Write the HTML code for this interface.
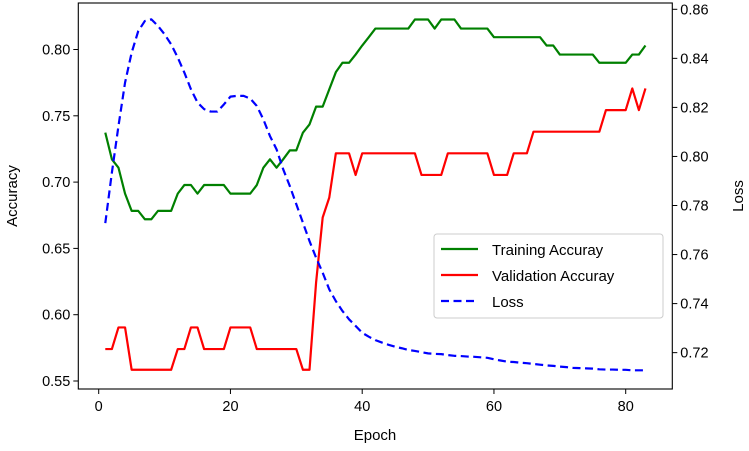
<!DOCTYPE html>
<html><head><meta charset="utf-8"><style>
html,body{margin:0;padding:0;background:#fff;}
svg text{font-family:"Liberation Sans","DejaVu Sans",sans-serif;fill:#000;}
</style></head><body>
<svg id="chart" width="749" height="446" viewBox="0 0 749 446" xmlns="http://www.w3.org/2000/svg"></svg>
<script>
const epochs = Array.from({length:83},(_,i)=>i+1);
const trainAcc = [0.7373,0.7172,0.7109,0.6913,0.6783,0.6783,0.6720,0.6720,0.6783,0.6783,0.6783,0.6913,0.6978,0.6978,0.6913,0.6978,0.6978,0.6978,0.6978,0.6913,0.6913,0.6913,0.6913,0.6978,0.7109,0.7172,0.7109,0.7172,0.7239,0.7239,0.7373,0.7435,0.7569,0.7569,0.7699,0.7829,0.7900,0.7900,0.7962,0.8030,0.8093,0.8158,0.8158,0.8158,0.8158,0.8158,0.8158,0.8226,0.8226,0.8226,0.8158,0.8226,0.8226,0.8226,0.8158,0.8158,0.8158,0.8158,0.8158,0.8093,0.8093,0.8093,0.8093,0.8093,0.8093,0.8093,0.8093,0.8030,0.8030,0.7962,0.7962,0.7962,0.7962,0.7962,0.7962,0.7900,0.7900,0.7900,0.7900,0.7900,0.7962,0.7962,0.8030];
const valAcc = [0.5741,0.5741,0.5904,0.5904,0.5585,0.5585,0.5585,0.5585,0.5585,0.5585,0.5585,0.5741,0.5741,0.5904,0.5904,0.5741,0.5741,0.5741,0.5741,0.5904,0.5904,0.5904,0.5904,0.5741,0.5741,0.5741,0.5741,0.5741,0.5741,0.5741,0.5585,0.5585,0.6243,0.6733,0.6883,0.7217,0.7217,0.7217,0.7054,0.7217,0.7217,0.7217,0.7217,0.7217,0.7217,0.7217,0.7217,0.7217,0.7054,0.7054,0.7054,0.7054,0.7217,0.7217,0.7217,0.7217,0.7217,0.7217,0.7217,0.7054,0.7054,0.7054,0.7217,0.7217,0.7217,0.7380,0.7380,0.7380,0.7380,0.7380,0.7380,0.7380,0.7380,0.7380,0.7380,0.7380,0.7543,0.7543,0.7543,0.7543,0.7706,0.7543,0.7706];
const lossVals = [0.7728,0.7934,0.8124,0.8301,0.8423,0.8511,0.8552,0.8559,0.8532,0.8498,0.8457,0.8403,0.8342,0.8274,0.8220,0.8193,0.8183,0.8183,0.8212,0.8244,0.8247,0.8247,0.8236,0.8206,0.8151,0.8083,0.8029,0.7948,0.7880,0.7805,0.7730,0.7655,0.7587,0.7526,0.7458,0.7410,0.7370,0.7336,0.7309,0.7281,0.7265,0.7251,0.7241,0.7232,0.7224,0.7218,0.7211,0.7207,0.7202,0.7197,0.7195,0.7194,0.7190,0.7187,0.7186,0.7184,0.7183,0.7181,0.7179,0.7173,0.7168,0.7163,0.7162,0.7159,0.7157,0.7154,0.7151,0.7148,0.7146,0.7143,0.7141,0.7138,0.7137,0.7136,0.7135,0.7132,0.7131,0.7131,0.7130,0.7130,0.7128,0.7128,0.7128];
const xTicks = [0,20,40,60,80];
const accTicks = [0.55,0.60,0.65,0.70,0.75,0.80];
const lossTicks = [0.72,0.74,0.76,0.78,0.80,0.82,0.84,0.86];

const svg = document.getElementById('chart');
const NS = 'http://www.w3.org/2000/svg';
const L=78.3,R=672.3,T=3,B=389;
const xs = e => 98.7 + (e-0)*6.5875;
const ya = v => 381 - (v-0.55)*1326;
const yl = v => 9.3 + (0.86-v)*2452.5;
function mk(tag, attrs, parent){const el=document.createElementNS(NS,tag);for(const k in attrs)el.setAttribute(k,attrs[k]);(parent||svg).appendChild(el);return el;}

function series(vals, yf, color, dash, name){
  const d = vals.map((v,i)=>(i?'L':'M')+xs(epochs[i]).toFixed(2)+','+yf(v).toFixed(2)).join(' ');
  const p = mk('path',{d:d,fill:'none',stroke:color,'stroke-width':2.2,'stroke-linejoin':'round'});
  if(dash) p.setAttribute('stroke-dasharray',dash);
  
  
}
series(trainAcc, ya, '#008000', null, 'training-accuracy-line');
series(valAcc, ya, '#ff0000', null, 'validation-accuracy-line');
series(lossVals, yl, '#0000ff', '8,4.5', 'loss-line');

const frame = mk('rect',{x:L,y:T,width:R-L,height:B-T,fill:'none',stroke:'#000','stroke-width':1.1});



xTicks.forEach(t=>{
  const x=xs(t);
  mk('line',{x1:x,x2:x,y1:B,y2:B+5,stroke:'#000','stroke-width':1});
  const tx=mk('text',{x:x,y:B+22,'text-anchor':'middle','font-size':14.5});
  tx.textContent=t;
  
  
});
accTicks.forEach(t=>{
  const y=ya(t);
  mk('line',{x1:L-5,x2:L,y1:y,y2:y,stroke:'#000','stroke-width':1});
  const tx=mk('text',{x:L-8,y:y+5,'text-anchor':'end','font-size':14.5});
  tx.textContent=t.toFixed(2);
  
  
});
lossTicks.forEach(t=>{
  const y=yl(t);
  mk('line',{x1:R,x2:R+5,y1:y,y2:y,stroke:'#000','stroke-width':1});
  const tx=mk('text',{x:R+8,y:y+5,'text-anchor':'start','font-size':14.5});
  tx.textContent=t.toFixed(2);
  
  
});
</script>
<svg width="749" height="446" style="position:absolute;left:0;top:0" xmlns="http://www.w3.org/2000/svg">
  <text x="375" y="440" text-anchor="middle" font-size="15">Epoch</text>
  <text transform="translate(17,196) rotate(-90)" text-anchor="middle" font-size="15">Accuracy</text>
  <text transform="translate(743,196) rotate(-90)" text-anchor="middle" font-size="15">Loss</text>
  <g>
    <rect x="434" y="234" width="229" height="84" rx="3" fill="#fff" fill-opacity="0.85" stroke="#ccc" stroke-width="1"/>
    <g>
      <line x1="441" x2="478" y1="249" y2="249" stroke="#008000" stroke-width="2.2"/>
      <text x="492" y="255" font-size="15">Training Accuray</text>
    </g>
    <g>
      <line x1="441" x2="478" y1="275" y2="275" stroke="#ff0000" stroke-width="2.2"/>
      <text x="492" y="281" font-size="15">Validation Accuray</text>
    </g>
    <g>
      <line x1="441" x2="478" y1="301" y2="301" stroke="#0000ff" stroke-width="2.2" stroke-dasharray="8,4.5"/>
      <text x="492" y="307" font-size="15">Loss</text>
    </g>
  </g>
</svg>
</body></html>
